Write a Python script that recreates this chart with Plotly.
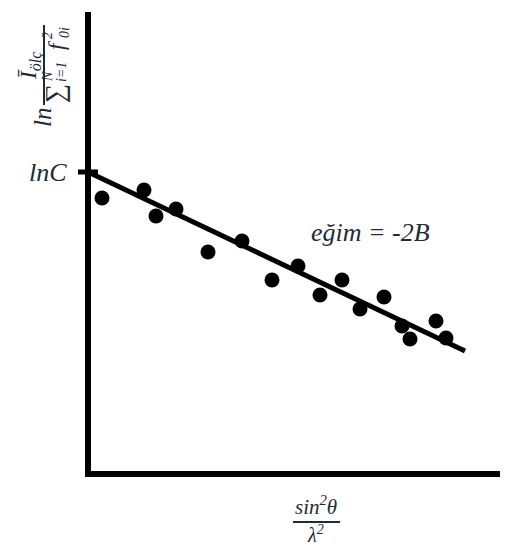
import plotly.graph_objects as go

# ---- data (schematic Wilson plot) ----
x_vals = [0.035, 0.14, 0.17, 0.22, 0.30, 0.385, 0.46, 0.525, 0.58, 0.635, 0.68, 0.74, 0.785, 0.805, 0.87, 0.895]
y_vals = [2.76, 2.84, 2.58, 2.65, 2.22, 2.33, 1.94, 2.08, 1.79, 1.94, 1.65, 1.77, 1.48, 1.35, 1.53, 1.36]
ln_c = 3.02
slope = -1.9
fit_x = [0.0, 0.9425]
fit_y = [ln_c + slope * v for v in fit_x]

# page body has an 8px margin; the figure fills the rest of the window
OFF = 8
W, H = 508 - OFF, 545 - OFF
X_RANGE = [-0.2, 1.05]
Y_RANGE = [-0.71, 4.66]
TXT = "#1d2b36"
FONT = "'Liberation Serif', serif"


def px(xp, yp):
    return (xp - OFF) / W, 1 - (yp - OFF) / H


fig = go.Figure()
fig.add_trace(go.Scatter(x=fit_x, y=fit_y, mode="lines",
                         line=dict(color="black", width=5), hoverinfo="skip"))
fig.add_trace(go.Scatter(x=x_vals, y=y_vals, mode="markers",
                         marker=dict(color="black", size=15, line=dict(width=0))))

shapes = [
    # y axis
    dict(type="line", xref="x", yref="y", x0=0, x1=0, y0=-0.03, y1=4.62,
         line=dict(color="black", width=6)),
    # x axis
    dict(type="line", xref="x", yref="y", x0=-0.0075, x1=1.06, y0=0, y1=0,
         line=dict(color="black", width=6)),
    # lnC tick
    dict(type="line", xref="x", yref="y", x0=-0.025, x1=0.025, y0=ln_c, y1=ln_c,
         line=dict(color="black", width=5)),
]

# x-label fraction bar
bx0, by = px(293, 522)
bx1, _ = px(340, 522)
shapes.append(dict(type="line", xref="paper", yref="paper", x0=bx0, x1=bx1, y0=by, y1=by,
                   line=dict(color=TXT, width=2)))
# y-label fraction bar (vertical)
vx, vy0 = px(44, 25)
_, vy1 = px(44, 105)
shapes.append(dict(type="line", xref="paper", yref="paper", x0=vx, x1=vx, y0=vy0, y1=vy1,
                   line=dict(color=TXT, width=2)))

ann = []


def add_text(text, xp, yp, size, angle=0, xanchor="center"):
    x, y = px(xp, yp)
    ann.append(dict(text="<i>" + text + "</i>", x=x, y=y, xref="paper", yref="paper",
                    showarrow=False, xanchor=xanchor, yanchor="middle", textangle=angle,
                    font=dict(family=FONT, size=size, color=TXT)))


add_text("lnC", 69, 172, 26, xanchor="right")
add_text("eğim = -2B", 370, 232, 26)
add_text("sin<sup>2</sup>θ", 316, 505, 21)
add_text("λ<sup>2</sup>", 315, 534, 20)
# rotated y label: ln( I_ölç / sum f^2 )
add_text("ln", 42, 118, 25, angle=-90)
add_text("Ī<sub>ölç</sub>", 30, 66, 23, angle=-90)
add_text("∑", 55, 94, 27, angle=-90)
add_text("N", 47, 77, 14, angle=-90)
add_text("i=1", 62, 72, 14, angle=-90)
add_text("f", 57, 45, 23, angle=-90)
add_text("2", 48, 36, 14, angle=-90)
add_text("0i", 64, 33, 14, angle=-90)

fig.update_layout(
    width=W, height=H,
    margin=dict(l=0, r=0, t=0, b=0),
    paper_bgcolor="white", plot_bgcolor="white",
    showlegend=False,
    xaxis=dict(range=X_RANGE, visible=False, fixedrange=True),
    yaxis=dict(range=Y_RANGE, visible=False, fixedrange=True),
    shapes=shapes,
    annotations=ann,
)

fig.write_html("out.html")
